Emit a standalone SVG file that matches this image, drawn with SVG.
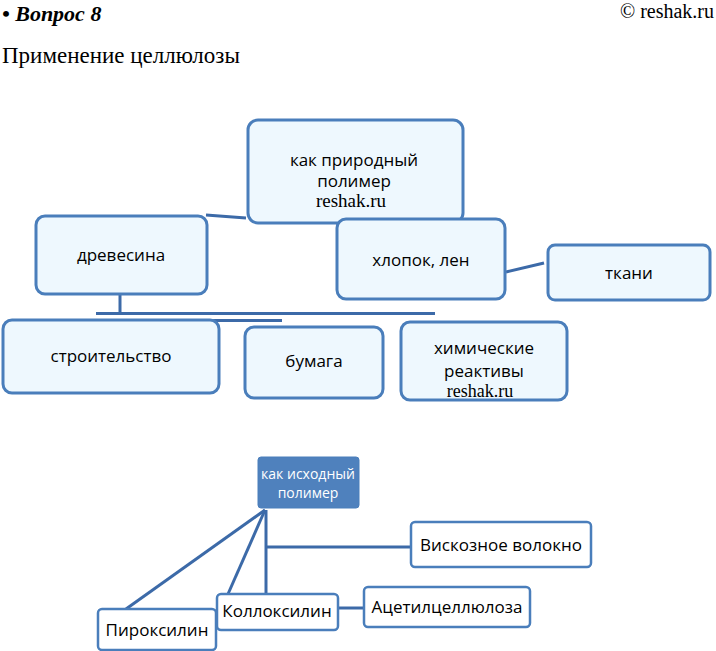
<svg xmlns="http://www.w3.org/2000/svg" width="716" height="651" viewBox="0 0 716 651">
<style>
.n{fill:#eef8fe;stroke:#4a7ebb;stroke-width:3}
.w{fill:#ffffff;stroke:#4a7ebb;stroke-width:2.5}
.d{fill:#4f81bd;stroke:#4a7ebb;stroke-width:1}
.t{font-family:"Open Sans","Liberation Sans",sans-serif;font-size:17px;fill:#000;text-anchor:middle}
.tw{font-family:"Open Sans","Liberation Sans",sans-serif;font-size:14px;fill:#fff;text-anchor:middle}
.s{font-family:"Liberation Serif",serif;fill:#000}
.c{stroke:#3c6aa8;stroke-width:3;fill:none}
</style>
<text class="s" x="2" y="21" font-size="22" font-weight="bold" font-style="italic">• Вопрос 8</text>
<text class="s" x="714" y="18" font-size="20" text-anchor="end">© reshak.ru</text>
<text class="s" x="2" y="63" font-size="23">Применение целлюлозы</text>
<g id="connectors">
<line class="c" x1="206" y1="215" x2="246" y2="218"/>
<line class="c" x1="506" y1="272" x2="544" y2="263"/>
<line class="c" x1="120" y1="294" x2="120" y2="313"/>
<line class="c" x1="96" y1="313.5" x2="435" y2="313.5" stroke-width="2.5"/>
<line class="c" x1="192" y1="320.5" x2="282" y2="320.5" stroke-width="2"/>
<line class="c" x1="265" y1="510" x2="126" y2="609"/>
<line class="c" x1="265" y1="510" x2="228" y2="594"/>
<line class="c" x1="266" y1="510" x2="266" y2="594"/>
<line class="c" x1="266" y1="547" x2="410" y2="547"/>
<line class="c" x1="338" y1="608" x2="363" y2="608"/>
</g>
<g id="natural">
<rect class="n" x="248" y="120" width="215" height="103" rx="10"/>
<text class="t" x="354" y="166">как природный</text>
<text class="t" x="354" y="187">полимер</text>
<text class="s" x="351" y="207" font-size="19" text-anchor="middle">reshak.ru</text>
</g>
<g id="wood">
<rect class="n" x="36" y="216" width="171" height="78" rx="9"/>
<text class="t" x="121" y="261">древесина</text>
</g>
<g id="cotton">
<rect class="n" x="337" y="219" width="168" height="80" rx="9"/>
<text class="t" x="421" y="266">хлопок, лен</text>
</g>
<g id="fabric">
<rect class="n" x="548" y="245" width="162" height="55" rx="7"/>
<text class="t" x="629" y="279">ткани</text>
</g>
<g id="construction">
<rect class="n" x="3" y="320" width="216" height="73" rx="9"/>
<text class="t" x="111" y="362">строительство</text>
</g>
<g id="paper">
<rect class="n" x="245" y="327" width="138" height="71" rx="9"/>
<text class="t" x="314" y="367">бумага</text>
</g>
<g id="chemicals">
<rect class="n" x="401" y="322" width="166" height="78" rx="9"/>
<text class="t" x="484" y="354">химические</text>
<text class="t" x="484" y="377">реактивы</text>
<text class="s" x="480" y="397" font-size="18" text-anchor="middle">reshak.ru</text>
</g>
<g id="source">
<rect class="d" x="258" y="457" width="101" height="51" rx="3"/>
<text class="tw" x="308" y="479">как исходный</text>
<text class="tw" x="308" y="498">полимер</text>
</g>
<g id="viscose">
<rect class="w" x="411" y="522" width="180" height="45" rx="4"/>
<text class="t" x="501" y="551">Вискозное волокно</text>
</g>
<g id="acetyl">
<rect class="w" x="364" y="587" width="166" height="40" rx="4"/>
<text class="t" x="447" y="613">Ацетилцеллюлоза</text>
</g>
<g id="pyroxylin">
<rect class="w" x="98" y="609" width="118" height="41" rx="4"/>
<text class="t" x="157" y="636">Пироксилин</text>
</g>
<g id="colloxylin">
<rect class="w" x="217" y="594" width="121" height="36" rx="4"/>
<text class="t" x="277" y="617">Коллоксилин</text>
</g>
</svg>
